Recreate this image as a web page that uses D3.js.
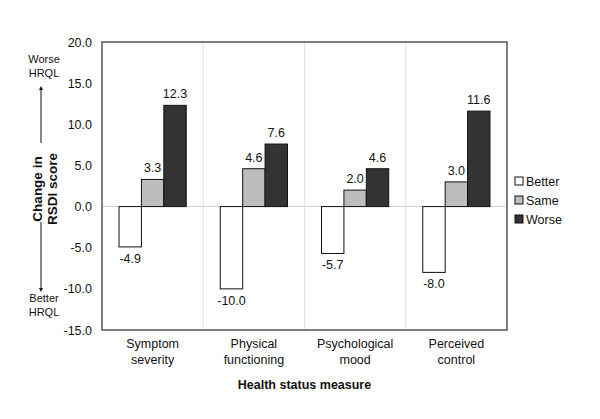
<!DOCTYPE html>
<html><head><meta charset="utf-8">
<script src="https://cdn.jsdelivr.net/npm/d3@7"></script>
<style>body{margin:0;background:#fff}svg{display:block}text{font-family:"Liberation Sans",Arial,sans-serif;fill:#111}</style>
</head><body><svg id="c" width="600" height="419"></svg>
<script>
const categories = [["Symptom","severity"],["Physical","functioning"],["Psychological","mood"],["Perceived","control"]];
const seriesNames = ["Better","Same","Worse"];
const better = [-4.9,-10.0,-5.7,-8.0];
const same = [3.3,4.6,2.0,3.0];
const worse = [12.3,7.6,4.6,11.6];
const yTicks = [-15,-10,-5,0,5,10,15,20];
const colors = ["#ffffff","#bdbdbd","#333333"];

const fmt = d => d.toFixed(1);
const svg = d3.select("#c");
const L=102,R=507,T=42,B=330;
const x = d3.scaleBand().domain(d3.range(categories.length)).range([L,R]);
const y = d3.scaleLinear().domain([-15,20]).range([B,T]);
const inner = d3.scaleBand().domain(seriesNames).range([0,x.bandwidth()]).paddingOuter(0.76).paddingInner(0);
const values = [better,same,worse];

svg.append("g").selectAll("line").data(d3.range(1,categories.length)).join("line")
 .attr("x1",i=>x(i)).attr("x2",i=>x(i)).attr("y1",T).attr("y2",B).attr("stroke","#e2e2e2");
svg.append("line").attr("x1",L).attr("x2",R).attr("y1",y(0)).attr("y2",y(0)).attr("stroke","#cfcfcf");

seriesNames.forEach((s,si)=>{
  const g=svg.append("g");
  g.selectAll("rect").data(values[si]).join("rect")
   .attr("x",(d,i)=>x(i)+inner(s)).attr("width",inner.bandwidth())
   .attr("y",d=>y(Math.max(0,d))).attr("height",d=>Math.abs(y(d)-y(0)))
   .attr("fill",colors[si]).attr("stroke","#111").attr("stroke-width",1);
  g.selectAll("text").data(values[si]).join("text")
   .attr("x",(d,i)=>x(i)+inner(s)+inner.bandwidth()/2)
   .attr("y",d=>d>=0? y(d)-7 : y(d)+16)
   .attr("text-anchor","middle").attr("font-size",12.5)
   .text(fmt);
});

svg.append("rect").attr("x",L).attr("y",T).attr("width",R-L).attr("height",B-T)
 .attr("fill","none").attr("stroke","#555").attr("stroke-width",1.5);

const ya = svg.append("g").attr("transform",`translate(${L},0)`)
 .call(d3.axisLeft(y).tickValues(yTicks).tickFormat(fmt).tickSize(0).tickPadding(10));
ya.select(".domain").remove();
ya.selectAll("text").attr("font-size",12.5).attr("font-family","Liberation Sans, Arial, sans-serif").attr("fill","#111");

categories.forEach((c,i)=>{
  const cx=x(i)+x.bandwidth()/2;
  const t=svg.append("text").attr("text-anchor","middle").attr("font-size",12.5).attr("y",348);
  t.append("tspan").attr("x",cx).text(c[0]);
  t.append("tspan").attr("x",cx).attr("dy",16).text(c[1]);
});
svg.append("text").attr("x",(L+R)/2).attr("y",389).attr("text-anchor","middle")
 .attr("font-size",12.5).attr("font-weight","bold").text("Health status measure");

const yt = svg.append("text").attr("transform","translate(42,189) rotate(-90)").attr("text-anchor","middle")
 .attr("font-size",13.5).attr("font-weight","bold");
yt.append("tspan").attr("x",0).attr("y",0).text("Change in");
yt.append("tspan").attr("x",0).attr("y",14.5).text("RSDI score");

const ann = (lines,yy)=>{ const t=svg.append("text").attr("text-anchor","middle").attr("font-size",11).attr("fill","#222");
  lines.forEach((l,k)=>t.append("tspan").attr("x",44).attr("y",yy+k*14).text(l)); };
ann(["Worse","HRQL"],63);
ann(["Better","HRQL"],302);
svg.append("defs").append("marker").attr("id","ah").attr("viewBox","0 0 10 10").attr("refX",5).attr("refY",5)
 .attr("markerWidth",4).attr("markerHeight",5).attr("orient","auto")
 .append("path").attr("d","M0,0L10,5L0,10z").attr("fill","#111");
svg.append("line").attr("x1",41).attr("x2",41).attr("y1",143).attr("y2",88).attr("stroke","#111").attr("marker-end","url(#ah)");
svg.append("line").attr("x1",41).attr("x2",41).attr("y1",222).attr("y2",290).attr("stroke","#111").attr("marker-end","url(#ah)");

seriesNames.forEach((s,i)=>{
  const yy=181+i*19;
  svg.append("rect").attr("x",515).attr("y",yy-4).attr("width",8).attr("height",8)
   .attr("fill",colors[i]).attr("stroke","#111");
  svg.append("text").attr("x",526).attr("y",yy+4.5).attr("font-size",12.5).text(s);
});
</script></body></html>
